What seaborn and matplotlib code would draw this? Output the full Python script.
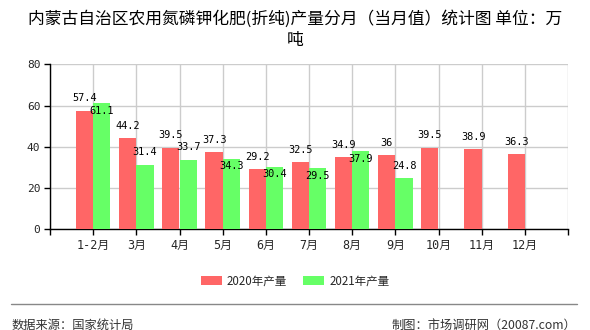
import numpy as np
import pandas as pd
import matplotlib
matplotlib.use("Agg")
import matplotlib.pyplot as plt
import seaborn as sns
from matplotlib.lines import Line2D

# 数据
months = ["1-2月", "3月", "4月", "5月", "6月", "7月", "8月", "9月", "10月", "11月", "12月"]
prod_2020 = [57.4, 44.2, 39.5, 37.3, 29.2, 32.5, 34.9, 36, 39.5, 38.9, 36.3]
prod_2021 = [61.1, 31.4, 33.7, 34.3, 30.4, 29.5, 37.9, 24.8, None, None, None]
series = ["2020年产量", "2021年产量"]
y_ticks = [0, 20, 40, 60, 80]
# 2021年标签放在柱子上方(True)还是内部(False)
label_above_2021 = [False, True, True, False, False, False, False, True]

def fmt(v):
    return f"{v:g}"

rows = []
for m, a, b in zip(months, prod_2020, prod_2021):
    rows.append({"month": m, "series": series[0], "value": a})
    if b is not None:
        rows.append({"month": m, "series": series[1], "value": b})
df = pd.DataFrame(rows)

sns.set_style("white")
plt.rcParams["font.family"] = ["Noto Sans CJK SC", "DejaVu Sans"]
mono = ["DejaVu Sans Mono", "Noto Sans CJK SC"]

fig = plt.figure(figsize=(5.9, 3.3), dpi=100)
ax = fig.add_axes([50 / 590, 1 - 229.3 / 330, 518 / 590, 165 / 330])

sns.barplot(data=df, x="month", y="value", hue="series", order=months,
            hue_order=series, palette=["#ff6666", "#66ff66"], width=0.8,
            saturation=1, errorbar=None, legend=True, ax=ax, zorder=3,
            linewidth=0, edgecolor="none")

# 数值标签
for ci, cont in enumerate(ax.containers):
    for bi, bar in enumerate(cont):
        h = bar.get_height()
        if np.isnan(h):
            continue
        x = bar.get_x() + bar.get_width() / 2
        if ci == 0 or label_above_2021[bi]:
            off = 9
        else:
            off = -5.5
        ax.annotate(fmt(h), (x, h), xytext=(0, off), textcoords="offset points",
                    ha="center", va="center", fontsize=7.4, family=mono,
                    color="black", zorder=5)

# 坐标轴
ax.set_xlim(-1, len(months))
ax.set_ylim(0, 80)
ax.set_xticks(range(-1, len(months) + 1))
ax.set_xticklabels([""] + months + [""], family=mono, fontsize=8.5)
ax.set_yticks(y_ticks)
ax.set_yticklabels([str(t) for t in y_ticks], family=mono, fontsize=8)
ax.set_xlabel("")
ax.set_ylabel("")
ax.grid(True, color="#cccccc", linewidth=1, zorder=0)
ax.set_axisbelow(True)
ax.tick_params(axis="both", direction="out", length=4, width=1, color="black",
               pad=3, left=True, bottom=True)
for s in ["top", "right"]:
    ax.spines[s].set_visible(False)
for s in ["left", "bottom"]:
    ax.spines[s].set_color("black")
    ax.spines[s].set_linewidth(1)

# 图例
handles, labels = ax.get_legend_handles_labels()
ax.get_legend().remove()
fig.legend(handles, labels, loc="center", bbox_to_anchor=(0.5, 1 - 281 / 330),
           ncol=2, frameon=False, fontsize=8.3, handlelength=1.8,
           handleheight=0.9, handletextpad=0.45, columnspacing=1.4)

# 标题
title_kw = dict(ha="center", va="center", fontsize=12.1, color="black")
fig.text(0.5, 1 - 19 / 330, "内蒙古自治区农用氮磷钾化肥(折纯)产量分月（当月值）统计图 单位：万", **title_kw)
fig.text(0.5, 1 - 41 / 330, "吨", **title_kw)

# 底部
fig.add_artist(Line2D([10.6 / 590, 577 / 590], [1 - 304 / 330, 1 - 304 / 330],
                      color="#888888", linewidth=1))
fig.text(12 / 590, 1 - 325 / 330, "数据来源：国家统计局", ha="left", va="center",
         fontsize=8.8, color="#333333")
fig.text(576 / 590, 1 - 325 / 330, "制图：市场调研网（20087.com）", ha="right",
         va="center", fontsize=8.8, color="#333333")

fig.savefig("out.png", dpi=100)
